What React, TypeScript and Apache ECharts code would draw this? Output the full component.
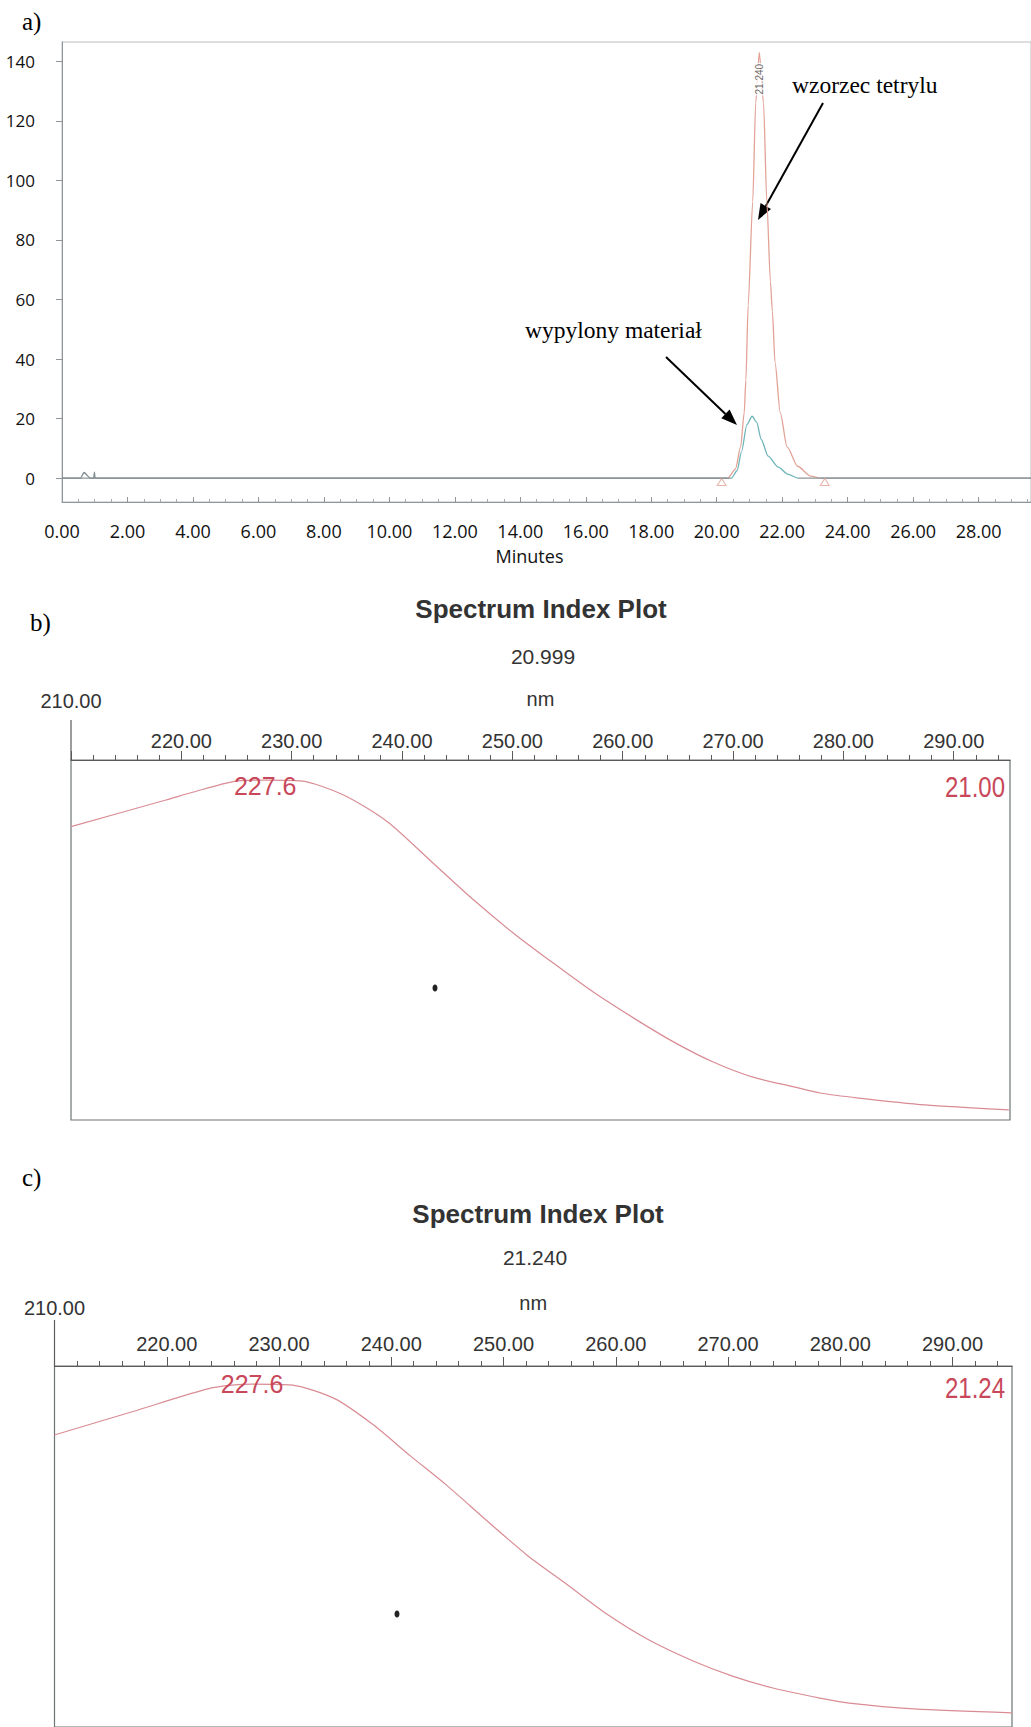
import React, { useEffect, useRef } from 'react';
import * as echarts from 'echarts';

const W = 1031;
const H = 1727;

// ---------- Panel a: chromatogram ----------
const tetrylTime = [0, 20.34, 20.57, 20.73, 20.84, 20.89, 20.96, 21.1, 21.19, 21.3, 21.43, 21.53, 21.64, 21.7, 21.78, 21.94, 22.15, 22.47, 22.87, 23.17, 29.6];
const tetrylSignal = [0, 0, 3, 10.5, 22, 33, 58, 93, 126, 143, 126, 93, 66, 56, 39, 22, 10.5, 4, 0.7, 0, 0];

const sampleTime = [0, 0.57, 0.67, 0.87, 0.97, 0.99, 1.01, 20.45, 20.62, 20.76, 20.92, 21.08, 21.22, 21.36, 21.57, 21.88, 22.18, 22.49, 29.6];
const sampleSignal = [0, 0, 1.9, 0, 0, 2, 0, 0, 2.5, 9, 18, 20.8, 18.8, 13, 7.4, 3.7, 1.3, 0, 0];

const integrationMarkTime = [20.15, 23.3];
const integrationMarkLevel = [-1.3, -1.3];

const apexLabelTime = [21.3];
const apexLabelLevel = [134];
const apexLabelText = ['21.240'];

const yMajorTicks = [0, 20, 40, 60, 80, 100, 120, 140];

// ---------- Panels b and c: spectra ----------
const spectrumNmB = [210, 218.6, 221.1, 224.7, 227.6, 230.8, 234.7, 238.7, 242.8, 246.5, 250.1, 253.7, 257.3, 261, 264.6, 268.2, 271.8, 275.5, 277.9, 281.4, 287.4, 295];
const spectrumAbsB = [0.815, 0.889, 0.911, 0.94, 0.944, 0.942, 0.903, 0.828, 0.714, 0.611, 0.519, 0.436, 0.356, 0.283, 0.217, 0.161, 0.119, 0.092, 0.075, 0.061, 0.042, 0.028];

const spectrumNmC = [210, 217, 224.1, 227.6, 231.2, 235, 238.4, 241.7, 245, 248.5, 252.1, 255.6, 259.2, 262.8, 266.9, 270.4, 274, 278.2, 280.8, 286.6, 295.3];
const spectrumAbsC = [0.809, 0.874, 0.94, 0.95, 0.947, 0.909, 0.837, 0.751, 0.668, 0.572, 0.476, 0.396, 0.313, 0.244, 0.183, 0.141, 0.108, 0.08, 0.066, 0.05, 0.039];

const lambdaMax = 227.6;
const retentionB = '20.999';
const retentionC = '21.240';
const rtTagB = '21.00';
const rtTagC = '21.24';

const nmMajorTicks = [210, 220, 230, 240, 250, 260, 270, 280, 290];
const nmLabelTicks = [220, 230, 240, 250, 260, 270, 280, 290];

// ---------- styles ----------
const SERIF = "'Liberation Serif', 'Times New Roman', serif";
const SANS = "'Liberation Sans', Arial, sans-serif";
const CAL = "'Open Sans', 'Noto Sans', sans-serif";
const GRAY = '#8f9599';
const SALMON = '#e2a296';
const TEAL = '#6db4b8';
const CURVE = '#d98c94';
const RED_TXT = '#c8485a';
const AXIS_DARK = '#5a5a5a';

function zip(a: number[], b: number[]) {
  return a.map((v, i) => [v, b[i]]);
}

function range(from: number, to: number, step: number, skipEvery?: number) {
  const out: number[] = [];
  for (let v = from; v <= to + 1e-9; v += step) {
    const r = Math.round(v * 100) / 100;
    if (skipEvery && Math.abs(r % skipEvery) < 1e-9) continue;
    out.push(r);
  }
  return out;
}

function arrow(x1: number, y1: number, x2: number, y2: number) {
  const dx = x2 - x1;
  const dy = y2 - y1;
  const len = Math.sqrt(dx * dx + dy * dy);
  const ux = dx / len;
  const uy = dy / len;
  const hl = 16;
  const hw = 6;
  const bx = x2 - hl * ux;
  const by = y2 - hl * uy;
  const nx = -uy;
  const ny = ux;
  return [
    { type: 'line', shape: { x1, y1, x2: bx, y2: by }, style: { stroke: '#000', lineWidth: 2 } },
    {
      type: 'polygon',
      shape: { points: [[x2, y2], [bx + hw * nx, by + hw * ny], [bx - hw * nx, by - hw * ny]] },
      style: { fill: '#000' },
    },
  ];
}

function spectrumAxes(grid: number, maxNm: number, margin: number, nameGap: number, offset210: number) {
  const base = { gridIndex: grid, type: 'value', min: 210, max: maxNm, position: 'top', splitLine: { show: false } };
  const labelStyle = { fontFamily: SANS, fontSize: 20, color: '#333' };
  return [
    {
      ...base,
      axisLine: { show: true, onZero: false, lineStyle: { color: AXIS_DARK, width: 1.2 } },
      axisTick: { show: true, length: 9, customValues: nmMajorTicks, lineStyle: { color: AXIS_DARK } },
      axisLabel: {
        show: true,
        customValues: nmLabelTicks,
        formatter: (v: number) => v.toFixed(2),
        margin,
        ...labelStyle,
      },
      name: 'nm',
      nameLocation: 'middle',
      nameGap,
      nameTextStyle: { ...labelStyle },
    },
    {
      ...base,
      offset: offset210,
      axisLine: { show: false, onZero: false },
      axisTick: { show: false },
      axisLabel: {
        show: true,
        customValues: [210],
        formatter: (v: number) => v.toFixed(2),
        margin,
        ...labelStyle,
      },
    },
    {
      ...base,
      axisLine: { show: false, onZero: false },
      axisLabel: { show: false },
      axisTick: { show: true, length: 5, customValues: range(212, 294, 2, 10), lineStyle: { color: AXIS_DARK } },
    },
  ];
}

function buildOption() {
  const graphic: any[] = [
    { type: 'text', x: 22, y: 21, style: { text: 'a)', fontFamily: SERIF, fontSize: 25, fill: '#000', textVerticalAlign: 'middle' } },
    { type: 'text', x: 30, y: 622, style: { text: 'b)', fontFamily: SERIF, fontSize: 25, fill: '#000', textVerticalAlign: 'middle' } },
    { type: 'text', x: 22, y: 1177, style: { text: 'c)', fontFamily: SERIF, fontSize: 25, fill: '#000', textVerticalAlign: 'middle' } },
    { type: 'text', x: 792, y: 85, style: { text: 'wzorzec tetrylu', fontFamily: SERIF, fontSize: 23.5, fill: '#000', textVerticalAlign: 'middle' } },
    { type: 'text', x: 525, y: 330, style: { text: 'wypylony materiał', fontFamily: SERIF, fontSize: 23.5, fill: '#000', textVerticalAlign: 'middle' } },
    ...arrow(823, 103, 758, 220),
    ...arrow(666, 357, 737, 425),
    { type: 'text', x: 1005, y: 787, scaleX: 0.8, style: { text: rtTagB, fontFamily: SANS, fontSize: 30, fill: RED_TXT, textAlign: 'right', textVerticalAlign: 'middle' } },
    { type: 'text', x: 1005, y: 1388, scaleX: 0.8, style: { text: rtTagC, fontFamily: SANS, fontSize: 30, fill: RED_TXT, textAlign: 'right', textVerticalAlign: 'middle' } },
    { type: 'line', shape: { x1: 71, y1: 720, x2: 71, y2: 760 }, style: { stroke: AXIS_DARK, lineWidth: 1.2 } },
    { type: 'line', shape: { x1: 54.5, y1: 1320, x2: 54.5, y2: 1366 }, style: { stroke: AXIS_DARK, lineWidth: 1.2 } },
    { type: 'ellipse', shape: { cx: 435, cy: 988, rx: 2.5, ry: 3.5 }, style: { fill: '#222' } },
    { type: 'ellipse', shape: { cx: 397, cy: 1614, rx: 2.5, ry: 3.5 }, style: { fill: '#222' } },
  ];

  return {
    animation: false,
    backgroundColor: '#fff',
    title: [
      { text: 'Spectrum Index Plot', left: 541, top: 596, textAlign: 'center', padding: 0, textStyle: { fontFamily: SANS, fontWeight: 'bold', fontSize: 26, color: '#333' } },
      { text: retentionB, left: 543, top: 646, textAlign: 'center', padding: 0, textStyle: { fontFamily: SANS, fontWeight: 'normal', fontSize: 21, color: '#333' } },
      { text: 'Spectrum Index Plot', left: 538, top: 1201, textAlign: 'center', padding: 0, textStyle: { fontFamily: SANS, fontWeight: 'bold', fontSize: 26, color: '#333' } },
      { text: retentionC, left: 535, top: 1247, textAlign: 'center', padding: 0, textStyle: { fontFamily: SANS, fontWeight: 'normal', fontSize: 21, color: '#333' } },
    ],
    grid: [
      { left: 62, top: 42, width: 972, height: 460, show: true, borderColor: '#b9bcbe', borderWidth: 1, backgroundColor: 'transparent' },
      { left: 71, top: 760, width: 939, height: 360, show: true, borderColor: '#6f7575', borderWidth: 1.2, backgroundColor: 'transparent' },
      { left: 54.5, top: 1366, width: 957.5, height: 362, show: true, borderColor: '#6f7575', borderWidth: 1.2, backgroundColor: 'transparent' },
    ],
    xAxis: [
      {
        gridIndex: 0,
        type: 'value',
        min: 0,
        max: 29.6,
        interval: 2,
        position: 'bottom',
        axisLine: { show: true, onZero: false, lineStyle: { color: GRAY } },
        axisTick: { show: true, inside: true, length: 5, lineStyle: { color: GRAY } },
        minorTick: { show: true, splitNumber: 4, length: 3, lineStyle: { color: '#a6aaad' } },
        axisLabel: { formatter: (v: number) => v.toFixed(2), margin: 20, fontFamily: CAL, fontSize: 18, color: '#111', showMaxLabel: false },
        splitLine: { show: false },
        name: 'Minutes',
        nameLocation: 'middle',
        nameGap: 45,
        nameTextStyle: { fontFamily: CAL, fontSize: 18, color: '#111', padding: [0, 34, 0, 0] },
      },
      ...spectrumAxes(1, 295.1, 9, 51, 40),
      ...spectrumAxes(2, 295.3, 12, 53, 36),
    ],
    yAxis: [
      {
        gridIndex: 0,
        type: 'value',
        min: -8,
        max: 146.5,
        axisLine: { show: true, onZero: false, lineStyle: { color: GRAY } },
        axisTick: { show: true, length: 6, customValues: yMajorTicks, lineStyle: { color: GRAY } },
        axisLabel: { show: true, customValues: yMajorTicks, margin: 27, fontFamily: CAL, fontSize: 17, color: '#111' },
        splitLine: { show: false },
      },
      {
        gridIndex: 0,
        type: 'value',
        min: -8,
        max: 146.5,
        axisLine: { show: false, onZero: false },
        axisLabel: { show: false },
        axisTick: { show: true, length: 3, customValues: range(-8, 146, 2, 20), lineStyle: { color: '#a6aaad' } },
        splitLine: { show: false },
      },
      { gridIndex: 1, type: 'value', min: 0, max: 1, show: false },
      { gridIndex: 2, type: 'value', min: 0, max: 1, show: false },
    ],
    visualMap: [
      {
        type: 'piecewise',
        show: false,
        seriesIndex: 0,
        dimension: 0,
        pieces: [
          { lt: 20.3, color: GRAY },
          { gte: 20.3, lt: 23.2, color: SALMON },
          { gte: 23.2, color: GRAY },
        ],
      },
      {
        type: 'piecewise',
        show: false,
        seriesIndex: 1,
        dimension: 0,
        pieces: [
          { lt: 20.4, color: '#7f8c92' },
          { gte: 20.4, lt: 22.5, color: TEAL },
          { gte: 22.5, color: GRAY },
        ],
      },
    ],
    series: [
      {
        name: 'wzorzec tetrylu',
        type: 'line',
        xAxisIndex: 0,
        yAxisIndex: 0,
        data: zip(tetrylTime, tetrylSignal),
        showSymbol: false,
        symbol: 'none',
        smooth: 0.25,
        smoothMonotone: 'x',
        lineStyle: { width: 1.3 },
        z: 3,
      },
      {
        name: 'wypylony materiał',
        type: 'line',
        xAxisIndex: 0,
        yAxisIndex: 0,
        data: zip(sampleTime, sampleSignal),
        showSymbol: false,
        symbol: 'none',
        smooth: 0.25,
        smoothMonotone: 'x',
        lineStyle: { width: 1.3 },
        z: 4,
      },
      {
        name: 'integration marks',
        type: 'scatter',
        xAxisIndex: 0,
        yAxisIndex: 0,
        data: zip(integrationMarkTime, integrationMarkLevel),
        symbol: 'triangle',
        symbolSize: [9, 7],
        itemStyle: { color: '#fff', borderColor: SALMON, borderWidth: 1 },
        z: 5,
      },
      {
        name: 'apex label',
        type: 'scatter',
        xAxisIndex: 0,
        yAxisIndex: 0,
        data: zip(apexLabelTime, apexLabelLevel),
        symbolSize: 1,
        itemStyle: { color: 'rgba(0,0,0,0)' },
        label: {
          show: true,
          position: 'inside',
          rotate: 90,
          formatter: () => apexLabelText[0],
          fontFamily: SANS,
          fontSize: 10,
          color: '#444',
          backgroundColor: '#fff',
          padding: [0, 1],
        },
        z: 6,
      },
      {
        name: 'spectrum 20.999',
        type: 'line',
        xAxisIndex: 1,
        yAxisIndex: 2,
        data: zip(spectrumNmB, spectrumAbsB),
        showSymbol: false,
        symbol: 'none',
        smooth: 0.25,
        lineStyle: { color: CURVE, width: 1.2 },
        markPoint: {
          symbol: 'circle',
          symbolSize: 1,
          itemStyle: { color: 'rgba(0,0,0,0)' },
          label: { show: true, position: 'inside', offset: [0, 6], formatter: () => lambdaMax.toFixed(1), fontFamily: SANS, fontSize: 25, color: RED_TXT },
          data: [{ coord: [lambdaMax, spectrumAbsB[spectrumNmB.indexOf(lambdaMax)]] }],
        },
      },
      {
        name: 'spectrum 21.240',
        type: 'line',
        xAxisIndex: 4,
        yAxisIndex: 3,
        data: zip(spectrumNmC, spectrumAbsC),
        showSymbol: false,
        symbol: 'none',
        smooth: 0.25,
        lineStyle: { color: CURVE, width: 1.2 },
        markPoint: {
          symbol: 'circle',
          symbolSize: 1,
          itemStyle: { color: 'rgba(0,0,0,0)' },
          label: { show: true, position: 'inside', offset: [0, 0], formatter: () => lambdaMax.toFixed(1), fontFamily: SANS, fontSize: 25, color: RED_TXT },
          data: [{ coord: [lambdaMax, spectrumAbsC[spectrumNmC.indexOf(lambdaMax)]] }],
        },
      },
    ],
    graphic,
  };
}

export default function App() {
  const ref = useRef<HTMLDivElement>(null);
  useEffect(() => {
    document.body.style.margin = '0';
    const chart = echarts.init(ref.current as HTMLDivElement, null, { renderer: 'svg', width: W, height: H });
    chart.setOption(buildOption() as any);
    return () => chart.dispose();
  }, []);
  return <div ref={ref} style={{ position: 'absolute', left: 0, top: 0, width: W, height: H, background: '#fff', overflow: 'hidden' }} />;
}
